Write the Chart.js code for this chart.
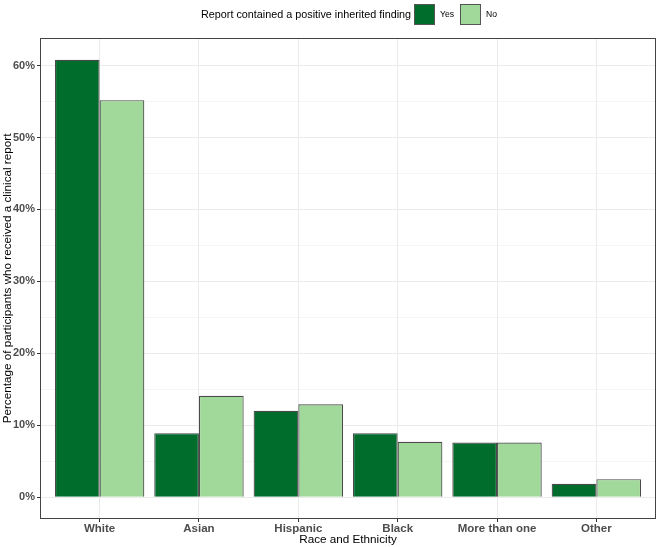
<!DOCTYPE html>
<html>
<head>
<meta charset="utf-8">
<script src="https://cdn.jsdelivr.net/npm/chart.js@4.4.1/dist/chart.umd.min.js"></script>
<style>
  html, body { margin: 0; padding: 0; background: #fff; }
  #wrap { width: 658px; height: 547px; position: relative; }
</style>
</head>
<body>
<div id="wrap"><canvas id="chart"></canvas></div>
<script>
const categories = ['White', 'Asian', 'Hispanic', 'Black', 'More than one', 'Other'];
const yesValues = [60.8, 8.9, 12.0, 8.9, 7.6, 1.85];
const noValues = [55.2, 14.1, 12.9, 7.7, 7.6, 2.5];
const majorTicks = [0, 10, 20, 30, 40, 50, 60];
const minorTicks = [5, 15, 25, 35, 45, 55];

const FONT = "'Liberation Sans', Arial, sans-serif";
const DARK = '#006d2c';
const LIGHT = '#a1d99b';

// panel border + legend drawn on top, ggplot style
const panelPlugin = {
    id: 'panel',
    afterDraw(chart) {
        const { ctx, chartArea: a } = chart;
        ctx.save();
        ctx.strokeStyle = '#444';
        ctx.lineWidth = 1;
        ctx.strokeRect(a.left + 0.5, a.top + 0.5, a.right - a.left - 1, a.bottom - a.top - 1);

        ctx.fillStyle = '#000';
        ctx.textBaseline = 'middle';
        ctx.font = `10.8px ${FONT}`;
        ctx.fillText('Report contained a positive inherited finding', 201, 15);

        const keys = [
            { label: 'Yes', color: DARK, x: 414 },
            { label: 'No', color: LIGHT, x: 460 },
        ];
        ctx.font = `8.6px ${FONT}`;
        keys.forEach(k => {
            ctx.fillStyle = k.color;
            ctx.fillRect(k.x, 4, 21, 21);
            ctx.strokeStyle = '#555';
            ctx.strokeRect(k.x + 0.5, 4.5, 20, 20);
            ctx.fillStyle = '#000';
            ctx.fillText(k.label, k.x + 26, 15);
        });
        ctx.restore();
    },
};

new Chart(document.getElementById('chart'), {
    type: 'bar',
    data: {
        labels: categories,
        datasets: [
            {
                label: 'Yes',
                data: yesValues,
                backgroundColor: DARK,
                borderColor: '#4a4a4a',
                borderWidth: 1.2,
            },
            {
                label: 'No',
                data: noValues,
                backgroundColor: LIGHT,
                borderColor: '#4a4a4a',
                borderWidth: 1.2,
            },
        ],
    },
    options: {
        responsive: true,
        maintainAspectRatio: false,
        animation: false,
        layout: {
            padding: { top: 38, right: 2, left: 0, bottom: 0 },
        },
        datasets: {
            bar: {
                categoryPercentage: 0.9,
                barPercentage: 1.0,
            },
        },
        plugins: {
            legend: { display: false },
            tooltip: { enabled: false },
        },
        scales: {
            x: {
                offset: true,
                // ggplot discrete expansion: 0.6 of a category on each side
                afterBuildTicks: scale => {
                    scale._startValue = -0.6;
                    scale._valueRange = categories.length - 1 + 1.2;
                },
                afterFit: scale => { scale.height = 28; },
                border: { display: false },
                grid: {
                    offset: false,
                    color: '#ebebeb',
                    lineWidth: 1,
                    tickColor: '#333',
                    tickLength: 3,
                },
                ticks: {
                    color: '#4d4d4d',
                    padding: 0,
                    maxRotation: 0,
                    autoSkip: false,
                    font: { family: FONT, size: 11.5, weight: 'bold' },
                },
                title: {
                    display: true,
                    text: 'Race and Ethnicity',
                    color: '#000',
                    padding: { top: 0, bottom: 0 },
                    font: { family: FONT, size: 11.7 },
                },
            },
            y: {
                min: -3.04,
                max: 63.84,
                afterBuildTicks: scale => {
                    scale.ticks = [...majorTicks, ...minorTicks]
                        .sort((a, b) => a - b)
                        .map(v => ({ value: v }));
                },
                afterFit: scale => { scale.width = 40; },
                border: { display: false },
                grid: {
                    color: '#ebebeb',
                    lineWidth: ctx => (ctx.tick && majorTicks.includes(ctx.tick.value) ? 1 : 0.5),
                    tickColor: ctx => (ctx.tick && majorTicks.includes(ctx.tick.value) ? '#333' : 'rgba(0,0,0,0)'),
                    tickLength: 3,
                },
                ticks: {
                    color: '#4d4d4d',
                    padding: 2,
                    autoSkip: false,
                    font: { family: FONT, size: 11, weight: 'bold' },
                    callback: value => (majorTicks.includes(value) ? value + '%' : ''),
                },
                title: {
                    display: true,
                    text: 'Percentage of participants who received a clinical report',
                    color: '#000',
                    padding: { top: 1, bottom: 0 },
                    font: { family: FONT, size: 11.7 },
                },
            },
        },
    },
    plugins: [panelPlugin],
});
</script>
</body>
</html>
